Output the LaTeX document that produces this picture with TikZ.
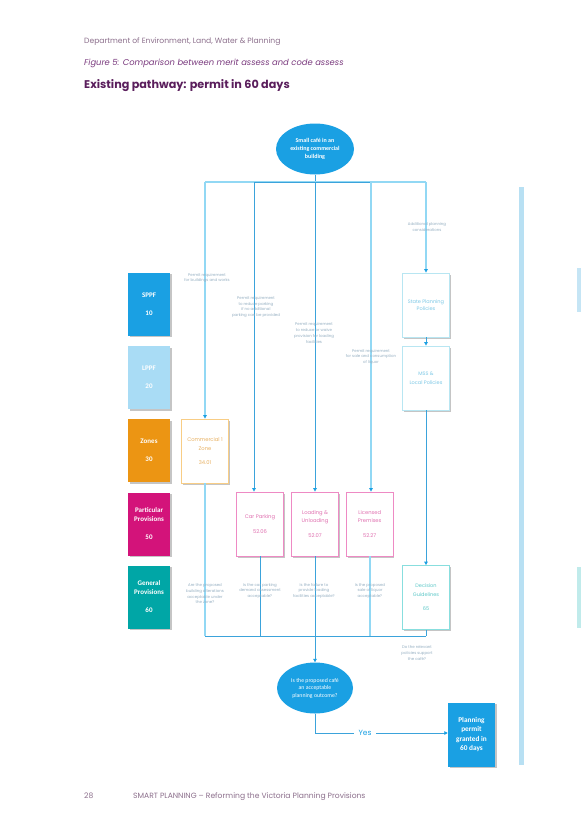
\documentclass[tikz,border=0pt]{standalone}
\usepackage{fontspec}
\setmainfont{Poppins}
\newfontfamily\dfont{Carlito}
\usetikzlibrary{shapes.geometric,arrows.meta,shadows}
\definecolor{cblue}{HTML}{1AA0E3}
\definecolor{clblue}{HTML}{A9DCF5}
\definecolor{corange}{HTML}{EC9513}
\definecolor{cmag}{HTML}{D3137A}
\definecolor{cteal}{HTML}{00A6A6}
\definecolor{lineb}{HTML}{3BA3DB}
\definecolor{linel}{HTML}{92D8F4}
\definecolor{lblc}{HTML}{95AFC2}
\definecolor{hdr}{HTML}{8C6F8C}
\definecolor{hfig}{HTML}{7A3A7E}
\definecolor{htitle}{HTML}{5A1E5C}
\definecolor{combd}{HTML}{F8CD85}
\definecolor{comtx}{HTML}{E8B060}
\definecolor{pinkbd}{HTML}{EE8AC4}
\definecolor{pinktx}{HTML}{E070B0}
\definecolor{cyanbd}{HTML}{B8E6F2}
\definecolor{cyantx}{HTML}{7CC8E6}
\definecolor{tealbd}{HTML}{88DEDE}
\definecolor{tealtx}{HTML}{5CC8C8}
\definecolor{barc}{HTML}{B8E0F3}
\definecolor{edgea}{HTML}{C5E5F5}
\definecolor{edgeb}{HTML}{C0EBEB}
\tikzset{
  shad/.style={drop shadow={shadow xshift=1.5pt,shadow yshift=-1.5pt,fill=black!45,opacity=.5}},
  tier/.style={shad,minimum width=42pt,minimum height=63pt,inner sep=0pt,align=center,text=white,font=\dfont\bfseries\fontsize{7}{9}\selectfont},
  pbox/.style={shad,draw,fill=white,line width=0.8pt,minimum width=46.5pt,minimum height=64pt,inner sep=0pt,align=center},
  ell/.style={ellipse,fill=cblue,inner sep=0pt,align=center,text=white},
  lbl/.style={font=\fontsize{3.9}{5.7}\selectfont,text=lblc,align=center,inner sep=0pt},
  flowm/.style={line width=1pt,draw=lineb},
  flowl/.style={line width=1.6pt,draw=linel},
  arr/.style={-{Triangle[length=3.5pt,width=3.5pt,color=cblue]}}
}
\begin{document}
\begin{tikzpicture}[x=1pt,y=-1pt]
\fill[white] (0,0) rectangle (581,822);
\path[use as bounding box] (0,0) rectangle (581,822);

% header and footer
\node[anchor=base west,inner sep=0pt,text=hdr,font=\fontsize{7.6}{8}\selectfont] (h1) at (84,43) {Department of Environment, Land, Water \& Planning};
\node[anchor=base west,inner sep=0pt,text=hfig,font=\itshape\fontsize{8.4}{9}\selectfont] (h2) at (84,65) {Figure 5: Comparison between merit assess and code assess};
\node[anchor=base west,inner sep=0pt,text=htitle,font=\bfseries\fontsize{11.2}{12}\selectfont] (h3) at (84,88) {Existing pathway: permit in 60 days};
\node[anchor=base west,inner sep=0pt,text=hdr,font=\fontsize{7.6}{8}\selectfont] (f1) at (84,798) {28};
\node[anchor=base west,inner sep=0pt,text=hdr,font=\fontsize{7.6}{8}\selectfont] (f2) at (133,798) {SMART PLANNING -- Reforming the Victoria Planning Provisions};

% right side bars
\fill[barc] (519,187) rectangle (523.5,765);
\fill[edgea] (577,268) rectangle (581,312);
\fill[edgeb] (577,567) rectangle (581,628);

% tiers
\node[tier,fill=cblue] (sppf) at (149,304) {SPPF\\[9pt]10};
\node[tier,fill=clblue] (lppf) at (149,377.5) {LPPF\\[9pt]20};
\node[tier,fill=corange] (zones) at (149,450.5) {Zones\\[9pt]30};
\node[tier,fill=cmag] (pp) at (149,524) {Particular\\Provisions\\[9pt]50};
\node[tier,fill=cteal] (gp) at (149,597) {General\\Provisions\\[9pt]60};

% start ellipse
\node[ell,minimum width=78pt,minimum height=51pt,font=\dfont\bfseries\fontsize{6}{8}\selectfont] (start) at (315,149) {Small café in an\\existing commercial\\building};

% boxes
\node[pbox,draw=combd,text=comtx,font=\fontsize{5.2}{9}\selectfont] (comm) at (205,451) {Commercial 1\\Zone\\[5pt]34.01};
\node[pbox,draw=pinkbd,text=pinktx,font=\fontsize{5.2}{8.5}\selectfont] (car) at (260,524) {Car Parking\\[7pt]52.06};
\node[pbox,draw=pinkbd,text=pinktx,font=\fontsize{5.2}{8.5}\selectfont] (load) at (315,524) {Loading \&\\Unloading\\[6pt]52.07};
\node[pbox,draw=pinkbd,text=pinktx,font=\fontsize{5.2}{8.5}\selectfont] (lic) at (369.7,524) {Licensed\\Premises\\[6pt]52.27};
\node[pbox,draw=cyanbd,text=cyantx,font=\fontsize{5}{7.5}\selectfont] (spp) at (426,305) {State Planning\\Policies};
\node[pbox,draw=cyanbd,text=cyantx,font=\fontsize{5}{8.5}\selectfont] (mss) at (426,378) {MSS \&\\Local Policies};
\node[pbox,draw=tealbd,text=tealtx,font=\fontsize{5}{8.5}\selectfont] (dec) at (426,597.5) {Decision\\Guidelines\\[6pt]65};

% question ellipse and final box
\node[ell,minimum width=76pt,minimum height=51pt,font=\dfont\fontsize{5.8}{7.5}\selectfont] (q) at (315,688) {Is the proposed café\\an acceptable\\planning outcome?};
\node[tier,fill=cblue,minimum width=47pt,minimum height=64pt,font=\dfont\bfseries\fontsize{7.3}{9.3}\selectfont] (final) at (471.5,734.5) {Planning\\permit\\granted in\\60 days};

% top bus
\coordinate (bL) at (205,182);
\coordinate (b2) at (254,182);
\coordinate (bM) at (315,182);
\coordinate (b4) at (371,182);
\coordinate (bR) at (426,182);
\draw[flowm] (start.south) -- (bM);
\draw[flowl] (bL) -- (bR);
\draw[flowm] (b2) -- (b4);
\draw[flowl,arr] (bL) -- (comm.north);
\draw[flowm,arr] (b2) -- (b2 |- car.north);
\draw[flowm,arr] (bM) -- (load.north);
\draw[flowl,arr] (b4) -- (b4 |- lic.north);
\draw[flowl,arr] (bR) -- (spp.north);
\draw[flowm,arr] (spp.south) -- (mss.north);
\draw[flowm,arr] (mss.south) -- (dec.north);

% bottom bus
\coordinate (cL) at (205,636);
\coordinate (cM) at (315,636);
\coordinate (cR) at (426,636);
\draw[flowl] (comm.south) -- (cL);
\draw[flowm] (car.south) -- (car.south |- cL);
\draw[flowm] (load.south) -- (cM);
\draw[flowl] (lic.south) -- (lic.south |- cL);
\draw[flowm] (dec.south) -- (cR);
\draw[flowm] (cL) -- (cR);
\draw[flowm,arr] (cM) -- (q.north);

% yes path
\node[inner sep=0pt,text=cblue,font=\fontsize{7.5}{8}\selectfont,minimum width=22pt] (yes) at (365,733) {Yes};
\draw[flowm] (q.south) |- (yes.west);
\draw[flowm,arr] (yes.east) -- (final.west |- yes);

% labels
\node[lbl] (l1) at (207,278) {Permit requirement\\for buildings and works};
\node[lbl] (l2) at (256,307) {Permit requirement\\to reduce parking\\if no additional\\parking can be provided};
\node[lbl] (l3) at (314,333) {Permit requirement\\to reduce or waive\\provision for loading\\facilities};
\node[lbl] (l4) at (371,357) {Permit requirement\\for sale and consumption\\of liquor};
\node[lbl] (l5) at (427,227) {Additional planning\\considerations};
\node[lbl] (l6) at (205,594) {Are the proposed\\building alterations\\acceptable under\\the zone?};
\node[lbl] (l7) at (260,591) {Is the car parking\\demand assessment\\acceptable?};
\node[lbl] (l8) at (314,591) {Is the failure to\\provide loading\\facilities acceptable?};
\node[lbl] (l9) at (370,591) {Is the proposed\\sale of liquor\\acceptable?};
\node[lbl] (l10) at (417,653) {Do the relevant\\policies support\\the café?};
\end{tikzpicture}
\end{document}
